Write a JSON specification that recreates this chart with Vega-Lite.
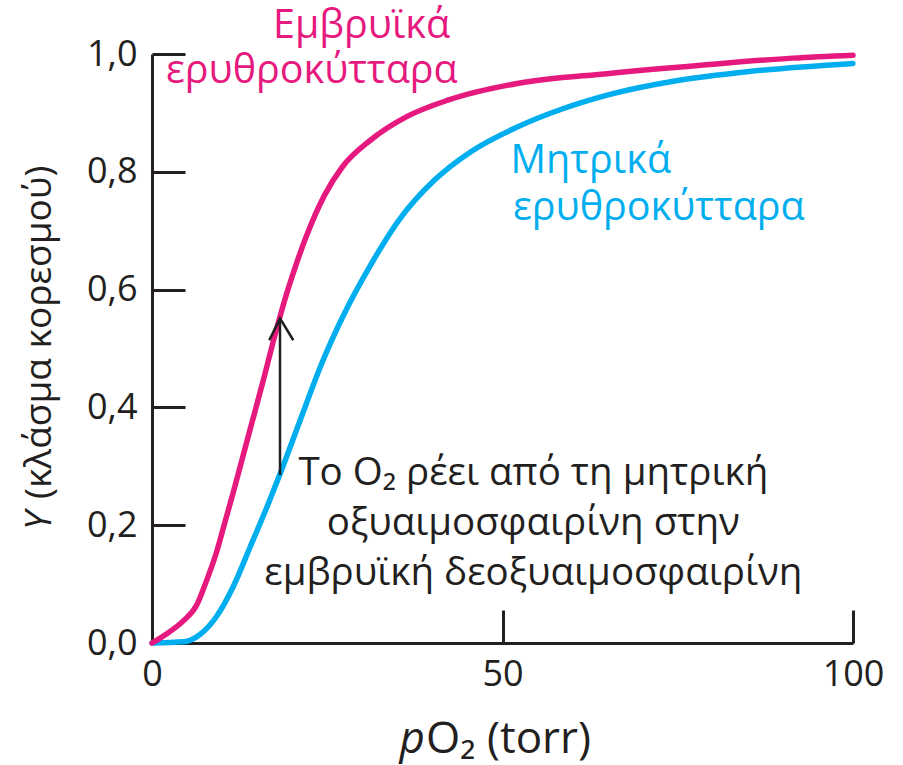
{
  "$schema": "https://vega.github.io/schema/vega-lite/v6.json",
  "width": 701,
  "height": 589,
  "autosize": {"type": "none"},
  "padding": {"left": 152, "top": 54, "right": 50, "bottom": 122},
  "background": "white",
  "config": {"view": {"stroke": null}, "font": "Open Sans"},
  "datasets": {
    "curves": [
      {"series": "Μητρικά", "pO2": 0, "Y": 0},
      {"series": "Μητρικά", "pO2": 4.5, "Y": 0.002},
      {"series": "Μητρικά", "pO2": 6.8, "Y": 0.014},
      {"series": "Μητρικά", "pO2": 9.2, "Y": 0.045},
      {"series": "Μητρικά", "pO2": 11.6, "Y": 0.096},
      {"series": "Μητρικά", "pO2": 14.0, "Y": 0.163},
      {"series": "Μητρικά", "pO2": 16.4, "Y": 0.231},
      {"series": "Μητρικά", "pO2": 18.3, "Y": 0.288},
      {"series": "Μητρικά", "pO2": 21.1, "Y": 0.377},
      {"series": "Μητρικά", "pO2": 24.4, "Y": 0.48},
      {"series": "Μητρικά", "pO2": 27.3, "Y": 0.556},
      {"series": "Μητρικά", "pO2": 31.2, "Y": 0.642},
      {"series": "Μητρικά", "pO2": 35.1, "Y": 0.716},
      {"series": "Μητρικά", "pO2": 40.3, "Y": 0.786},
      {"series": "Μητρικά", "pO2": 45.6, "Y": 0.835},
      {"series": "Μητρικά", "pO2": 52.1, "Y": 0.876},
      {"series": "Μητρικά", "pO2": 58.6, "Y": 0.907},
      {"series": "Μητρικά", "pO2": 65.2, "Y": 0.931},
      {"series": "Μητρικά", "pO2": 75.0, "Y": 0.955},
      {"series": "Μητρικά", "pO2": 84.9, "Y": 0.97},
      {"series": "Μητρικά", "pO2": 100, "Y": 0.984},
      {"series": "Εμβρυϊκά", "pO2": 0, "Y": 0},
      {"series": "Εμβρυϊκά", "pO2": 2, "Y": 0.015},
      {"series": "Εμβρυϊκά", "pO2": 4.5, "Y": 0.038},
      {"series": "Εμβρυϊκά", "pO2": 6.4, "Y": 0.065},
      {"series": "Εμβρυϊκά", "pO2": 7.5, "Y": 0.097},
      {"series": "Εμβρυϊκά", "pO2": 9.2, "Y": 0.154},
      {"series": "Εμβρυϊκά", "pO2": 10.4, "Y": 0.205},
      {"series": "Εμβρυϊκά", "pO2": 11.6, "Y": 0.256},
      {"series": "Εμβρυϊκά", "pO2": 14.0, "Y": 0.363},
      {"series": "Εμβρυϊκά", "pO2": 15.9, "Y": 0.447},
      {"series": "Εμβρυϊκά", "pO2": 17.3, "Y": 0.512},
      {"series": "Εμβρυϊκά", "pO2": 19.0, "Y": 0.585},
      {"series": "Εμβρυϊκά", "pO2": 20.4, "Y": 0.637},
      {"series": "Εμβρυϊκά", "pO2": 22.0, "Y": 0.69},
      {"series": "Εμβρυϊκά", "pO2": 24.6, "Y": 0.76},
      {"series": "Εμβρυϊκά", "pO2": 27.2, "Y": 0.809},
      {"series": "Εμβρυϊκά", "pO2": 31.2, "Y": 0.854},
      {"series": "Εμβρυϊκά", "pO2": 36.4, "Y": 0.894},
      {"series": "Εμβρυϊκά", "pO2": 42.3, "Y": 0.922},
      {"series": "Εμβρυϊκά", "pO2": 52.1, "Y": 0.95},
      {"series": "Εμβρυϊκά", "pO2": 65.2, "Y": 0.967},
      {"series": "Εμβρυϊκά", "pO2": 78.3, "Y": 0.981},
      {"series": "Εμβρυϊκά", "pO2": 91.4, "Y": 0.993},
      {"series": "Εμβρυϊκά", "pO2": 100, "Y": 0.998}
    ],
    "arrow": [
      {"part": "shaft", "o": 1, "pO2": 18.26, "Y": 0.285},
      {"part": "shaft", "o": 2, "pO2": 18.26, "Y": 0.551},
      {"part": "head", "o": 1, "pO2": 16.73, "Y": 0.514},
      {"part": "head", "o": 2, "pO2": 18.26, "Y": 0.551},
      {"part": "head", "o": 3, "pO2": 20.16, "Y": 0.514}
    ]
  },
  "layer": [
    {
      "data": {"name": "curves"},
      "mark": {"type": "line", "strokeWidth": 5.5, "interpolate": "monotone", "strokeCap": "round"},
      "encoding": {
        "x": {
          "field": "pO2", "type": "quantitative",
          "scale": {"domain": [0, 100], "nice": false, "zero": false},
          "axis": {
            "values": [0, 50, 100],
            "title": null,
            "labelFontSize": 36, "labelColor": "#231f20", "labelPadding": 47, "labelFlush": false,
            "tickSize": -33, "tickWidth": 3, "tickColor": "#231f20",
            "domainWidth": 3, "domainColor": "#231f20", "grid": false, "labelOverlap": false
          }
        },
        "y": {
          "field": "Y", "type": "quantitative",
          "scale": {"domain": [0, 1], "nice": false},
          "axis": {
            "values": [0, 0.2, 0.4, 0.6, 0.8, 1.0],
            "labelExpr": "replace(format(datum.value, '.1f'), '.', ',')",
            "title": null,
            "labelFontSize": 36, "labelColor": "#231f20", "labelPadding": 48, "labelFlush": false,
            "labelBaseline": "middle",
            "tickSize": -33, "tickWidth": 3, "tickColor": "#231f20",
            "domainWidth": 3, "domainColor": "#231f20", "grid": false, "labelOverlap": false
          }
        },
        "color": {
          "field": "series", "type": "nominal",
          "scale": {"domain": ["Μητρικά", "Εμβρυϊκά"], "range": ["#00AEEF", "#E5197E"]},
          "legend": null
        }
      }
    },
    {
      "data": {"name": "arrow"},
      "mark": {"type": "line", "color": "#231f20", "strokeWidth": 2.5},
      "encoding": {
        "x": {"field": "pO2", "type": "quantitative"},
        "y": {"field": "Y", "type": "quantitative"},
        "detail": {"field": "part"},
        "order": {"field": "o"}
      }
    },
    {
      "data": {"values": [{}]},
      "mark": {"type": "text", "text": "Εμβρυϊκά", "fontSize": 39.5, "color": "#E5197E", "align": "center", "baseline": "alphabetic"},
      "encoding": {"x": {"datum": 29.9}, "y": {"datum": 1.027}}
    },
    {
      "data": {"values": [{}]},
      "mark": {"type": "text", "text": "ερυθροκύτταρα", "fontSize": 39.5, "color": "#E5197E", "align": "center", "baseline": "alphabetic"},
      "encoding": {"x": {"datum": 22.8}, "y": {"datum": 0.951}}
    },
    {
      "data": {"values": [{}]},
      "mark": {"type": "text", "text": "Μητρικά", "fontSize": 39.5, "color": "#00AEEF", "align": "center", "baseline": "alphabetic"},
      "encoding": {"x": {"datum": 62.6}, "y": {"datum": 0.798}}
    },
    {
      "data": {"values": [{}]},
      "mark": {"type": "text", "text": "ερυθροκύτταρα", "fontSize": 39.5, "color": "#00AEEF", "align": "center", "baseline": "alphabetic"},
      "encoding": {"x": {"datum": 72.3}, "y": {"datum": 0.718}}
    },
    {
      "data": {"values": [{}]},
      "mark": {"type": "text", "text": ["Το O₂ ρέει από τη μητρική", "οξυαιμοσφαιρίνη στην", "εμβρυϊκή δεοξυαιμοσφαιρίνη"], "fontSize": 38.5, "lineHeight": 50, "color": "#231f20", "align": "center", "baseline": "alphabetic"},
      "encoding": {"x": {"datum": 54.4}, "y": {"datum": 0.268}}
    },
    {
      "data": {"values": [{}]},
      "mark": {"type": "text", "text": "p", "fontStyle": "italic", "fontSize": 44, "color": "#231f20", "align": "right", "baseline": "alphabetic"},
      "encoding": {"x": {"datum": 38.94}, "y": {"datum": -0.1868}}
    },
    {
      "data": {"values": [{}]},
      "mark": {"type": "text", "text": "O₂ (torr)", "fontSize": 44, "color": "#231f20", "align": "left", "baseline": "alphabetic"},
      "encoding": {"x": {"datum": 39.09}, "y": {"datum": -0.1868}}
    },
    {
      "data": {"values": [{}]},
      "mark": {"type": "text", "text": "Y", "fontStyle": "italic", "fontSize": 37, "angle": 270, "color": "#231f20", "align": "left", "baseline": "middle"},
      "encoding": {"x": {"datum": -15.98}, "y": {"datum": 0.1919}}
    },
    {
      "data": {"values": [{}]},
      "mark": {"type": "text", "text": "(κλάσμα κορεσμού)", "fontSize": 37, "angle": 270, "color": "#231f20", "align": "left", "baseline": "middle"},
      "encoding": {"x": {"datum": -15.98}, "y": {"datum": 0.2445}}
    }
  ]
}
